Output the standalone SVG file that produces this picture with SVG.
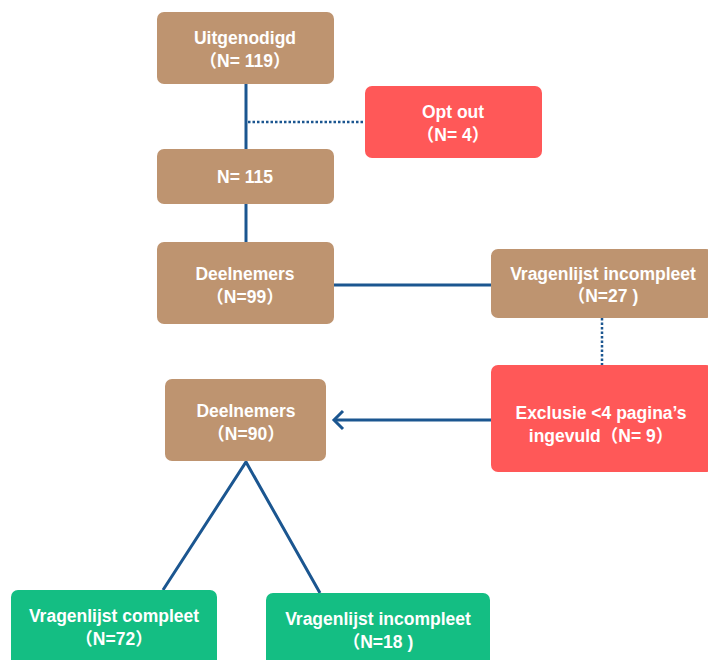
<svg xmlns="http://www.w3.org/2000/svg" width="708" height="660" viewBox="0 0 708 660">
<style>
.brown{fill:#BE9470}
.red{fill:#FF5858}
.green{fill:#14BE83}
.t{font-family:"Liberation Sans","Noto Sans CJK SC",sans-serif;font-weight:bold;font-size:17.5px;fill:#fff;text-anchor:middle}
.ln{stroke:#1B5690;stroke-width:3;fill:none}
.dot{stroke:#1B5690;stroke-width:2.5;fill:none;stroke-dasharray:2.5 2}
</style>
<rect width="708" height="660" fill="#fff"/>
<g id="connectors">
<line class="ln" x1="246" y1="84" x2="246" y2="149"/>
<line class="dot" x1="248" y1="122" x2="365" y2="122"/>
<line class="ln" x1="246" y1="204" x2="246" y2="242"/>
<line class="ln" x1="333" y1="285" x2="491" y2="285"/>
<line class="dot" x1="602" y1="318" x2="602" y2="365"/>
<line class="ln" x1="491" y1="420" x2="334" y2="420"/>
<polyline class="ln" points="343,411 334,420 343,429"/>
<polyline class="ln" points="163,590 246,462 320,593"/>
</g>
<g id="uitgenodigd">
<rect class="brown" x="157" y="12" width="177" height="72" rx="7"/>
<text class="t" x="245" y="44">Uitgenodigd</text>
<text class="t" x="245" y="67">（N= 119）</text>
</g>
<g id="optout">
<rect class="red" x="365" y="86" width="177" height="72" rx="7"/>
<text class="t" x="453" y="118">Opt out</text>
<text class="t" x="453" y="141">（N= 4）</text>
</g>
<g id="n115">
<rect class="brown" x="157" y="149" width="177" height="55" rx="7"/>
<text class="t" x="245" y="183">N= 115</text>
</g>
<g id="deelnemers99">
<rect class="brown" x="157" y="242" width="177" height="82" rx="7"/>
<text class="t" x="245" y="280">Deelnemers</text>
<text class="t" x="245" y="303">（N=99）</text>
</g>
<g id="incompleet27">
<rect class="brown" x="491" y="249" width="222" height="69" rx="7"/>
<text class="t" x="603" y="280">Vragenlijst incompleet</text>
<text class="t" x="603" y="302">（N=27 )</text>
</g>
<g id="exclusie">
<rect class="red" x="491" y="365" width="222" height="107" rx="7"/>
<text class="t" x="601" y="419">Exclusie &lt;4 pagina’s</text>
<text class="t" x="601" y="442">ingevuld（N= 9）</text>
</g>
<g id="deelnemers90">
<rect class="brown" x="165" y="379" width="161" height="82" rx="7"/>
<text class="t" x="246" y="417">Deelnemers</text>
<text class="t" x="246" y="440">（N=90）</text>
</g>
<g id="compleet72">
<rect class="green" x="11" y="590" width="206" height="80" rx="7"/>
<text class="t" x="114" y="622">Vragenlijst compleet</text>
<text class="t" x="114" y="645">（N=72）</text>
</g>
<g id="incompleet18">
<rect class="green" x="266" y="593" width="224" height="80" rx="7"/>
<text class="t" x="378" y="625">Vragenlijst incompleet</text>
<text class="t" x="378" y="648">（N=18 )</text>
</g>
</svg>
